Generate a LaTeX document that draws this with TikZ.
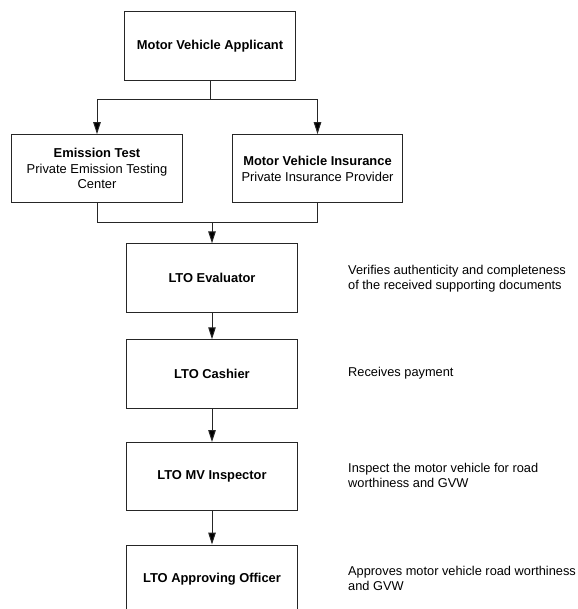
\documentclass[tikz,border=0pt]{standalone}
\usepackage{fontspec}
\setmainfont{Liberation Sans}
\usetikzlibrary{arrows.meta}
\begin{document}
\begin{tikzpicture}[x=1pt,y=-1pt,
  box/.style={draw=black!85, line width=1pt, minimum width=170.5pt, minimum height=68.3pt, inner sep=0pt, align=center, font=\fontsize{12.9}{15.5}\selectfont},
  note/.style={anchor=west, inner sep=0pt, align=left, font=\fontsize{12.8}{15}\selectfont},
  conn/.style={draw=black!85, line width=1pt},
  arr/.style={conn, -{Triangle[length=12pt,width=7.5pt,fill=black]}}]
\useasboundingbox (0,0) rectangle (577,609);
\clip (0,0) rectangle (577,609);
\node[box] (app) at (210,45.9) {\textbf{Motor Vehicle Applicant}};
\node[box] (emi) at (97,168.8) {\textbf{Emission Test}\\Private Emission Testing\\Center};
\node[box] (ins) at (317.5,168.8) {\textbf{Motor Vehicle Insurance}\\Private Insurance Provider};
\node[box] (eva) at (212,278) {\textbf{LTO Evaluator}};
\node[box] (cas) at (212,373.9) {\textbf{LTO Cashier}};
\node[box] (insp) at (212,476.7) {\textbf{LTO MV Inspector}};
\node[box] (apr) at (212,579.2) {\textbf{LTO Approving Officer}};
\node[note] (n1) at (348,278.2) {Verifies authenticity and completeness\\of the received supporting documents};
\node[note] (n2) at (348,373.3) {Receives payment};
\node[note] (n3) at (348,475.8) {Inspect the motor vehicle for road\\worthiness and GVW};
\node[note] (n4) at (348,578.2) {Approves motor vehicle road worthiness\\and GVW};
\coordinate (j1) at (210,100);
\coordinate (j2) at (212,223);
\draw[conn] (app.south) -- (j1);
\draw[arr] (j1) -| (emi.north);
\draw[arr] (j1) -| (ins.north);
\draw[conn] (emi.south) |- (j2);
\draw[conn] (ins.south) |- (j2);
\draw[arr] (j2) -- (eva.north);
\draw[arr] (eva.south) -- (cas.north);
\draw[arr] (cas.south) -- (insp.north);
\draw[arr] (insp.south) -- (apr.north);
\end{tikzpicture}
\end{document}
